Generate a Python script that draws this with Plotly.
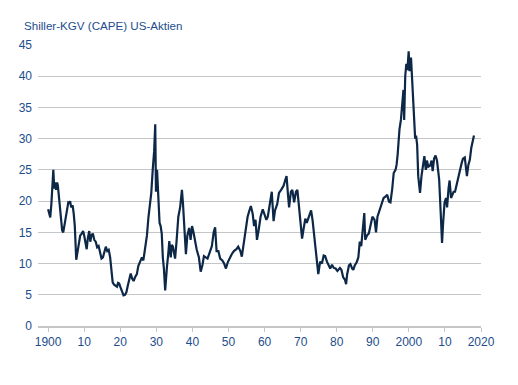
import plotly.graph_objects as go

years = [1900.0,1900.3,1900.6,1900.9,1901.2,1901.45,1901.7,1902.0,1902.2,1902.5,1902.7,1903.0,1903.3,1903.6,1903.9,
1904.2,1904.5,1904.8,1905.2,1905.6,1905.9,1906.1,1906.4,1906.8,1907.1,1907.4,1907.8,1908.1,1908.5,1908.9,1909.3,1909.7,
1910.0,1910.4,1910.7,1911.0,1911.4,1911.7,1912.0,1912.4,1912.8,1913.2,1913.6,1914.0,1914.4,1914.8,1915.2,1915.6,1916.0,
1916.4,1916.8,1917.2,1917.6,1917.9,1918.3,1918.7,1919.1,1919.4,1919.7,1920.0,1920.4,1920.9,1921.3,1921.7,1922.1,1922.5,
1922.9,1923.3,1923.7,1924.1,1924.6,1925.0,1925.5,1926.0,1926.4,1926.9,1927.4,1927.8,1928.2,1928.6,1929.0,1929.4,1929.7,
1929.9,1930.2,1930.5,1930.9,1931.2,1931.5,1931.8,1932.1,1932.45,1932.7,1932.95,1933.3,1933.6,1934.0,1934.3,1934.6,1935.0,
1935.2,1935.6,1936.1,1936.6,1937.1,1937.4,1937.8,1938.2,1938.6,1939.1,1939.5,1939.9,1940.3,1940.6,1941.2,1941.8,1942.3,
1942.8,1943.2,1943.7,1944.2,1944.8,1945.4,1945.9,1946.3,1946.7,1947.2,1947.7,1948.3,1948.8,1949.3,1949.8,1950.4,1950.9,
1951.5,1952.2,1952.7,1953.3,1953.7,1954.3,1954.8,1955.3,1955.8,1956.2,1956.7,1957.1,1957.5,1957.9,1958.4,1958.9,1959.5,
1959.9,1960.5,1960.9,1961.5,1962.0,1962.5,1962.9,1963.5,1964.0,1964.6,1965.3,1965.8,1966.1,1966.5,1966.8,1967.3,1967.7,
1968.2,1968.7,1969.1,1969.5,1970.0,1970.4,1970.8,1971.3,1971.7,1972.2,1972.9,1973.3,1973.7,1974.0,1974.4,1974.9,1975.4,
1975.9,1976.4,1976.8,1977.3,1977.8,1978.2,1978.7,1979.2,1979.7,1980.2,1980.9,1981.3,1981.8,1982.3,1982.6,1982.9,1983.4,
1983.8,1984.3,1984.6,1985.0,1985.6,1986.0,1986.4,1986.8,1987.3,1987.65,1987.9,1988.4,1988.9,1989.4,1989.9,1990.5,1990.9,
1991.3,1991.9,1992.5,1993.0,1993.5,1994.0,1994.5,1994.9,1995.4,1995.8,1996.3,1996.6,1996.9,1997.4,1997.8,1998.2,1998.5,
1998.7,1999.0,1999.3,1999.6,1999.95,2000.2,2000.6,2000.9,2001.2,2001.5,2001.75,2002.0,2002.3,2002.6,2002.8,2003.1,2003.5,
2003.9,2004.3,2004.7,2005.0,2005.4,2005.9,2006.3,2006.6,2007.0,2007.4,2007.8,2008.0,2008.4,2008.8,2009.2,2009.5,2009.9,
2010.3,2010.6,2011.0,2011.3,2011.7,2012.0,2012.4,2012.8,2013.2,2013.7,2014.1,2014.6,2015.0,2015.5,2015.9,2016.1,2016.5,
2016.9,2017.3,2017.7,2018.05]

cape = [18.7,18.0,17.4,19.5,22.5,25.0,22.0,23.0,21.8,23.0,22.5,20.5,19.5,17.0,15.3,
15.0,16.0,17.5,18.7,19.8,19.7,20.0,19.0,19.3,18.0,16.0,10.6,11.5,13.0,14.5,14.8,15.2,
14.5,13.0,12.3,14.0,15.2,13.5,14.5,14.8,13.8,13.5,12.6,12.8,11.8,10.8,11.0,11.8,12.7,
12.0,12.2,11.0,9.0,7.0,6.6,6.5,6.3,6.9,6.8,6.3,5.8,4.9,5.0,5.4,6.5,7.7,
8.4,7.6,7.2,7.8,8.3,9.6,10.3,11.0,10.5,12.5,14.5,17.3,19.3,21.3,25.0,28.0,32.3,
21.5,25.0,22.0,16.5,16.0,14.8,11.0,9.2,5.7,8.5,9.5,11.5,13.6,11.0,13.0,12.7,11.5,
10.8,13.5,17.5,19.0,21.8,19.5,14.5,11.5,14.5,15.7,13.8,16.0,15.0,13.8,12.2,11.0,8.7,
9.8,11.2,11.0,10.8,11.8,12.8,15.0,15.8,12.0,12.0,10.8,10.5,10.0,9.2,10.2,11.0,11.5,
12.0,12.3,12.7,12.0,11.1,13.5,15.5,17.5,18.5,19.2,18.0,16.0,17.0,13.8,15.5,17.5,18.7,
18.0,17.0,17.5,20.0,21.5,16.8,18.5,19.5,21.3,21.8,22.5,23.5,24.0,21.0,19.0,21.5,21.8,
19.8,21.5,21.8,19.5,16.8,14.0,15.5,17.2,16.5,17.5,18.5,17.0,15.0,13.5,11.5,8.3,10.3,
10.0,11.3,11.2,10.3,9.6,9.2,9.8,9.3,9.2,8.8,9.3,9.0,7.8,7.4,6.7,8.3,9.7,
9.9,9.2,9.0,9.7,10.3,11.0,13.5,12.8,16.0,18.1,13.8,14.5,14.8,16.5,17.5,17.0,15.0,
17.5,18.5,19.5,20.5,20.7,21.0,19.9,19.8,22.0,24.5,25.0,25.8,27.5,31.5,33.0,35.5,37.8,
33.0,40.0,42.0,41.0,44.0,40.8,43.0,39.5,36.0,34.0,30.0,30.5,29.0,24.0,23.0,21.3,24.0,
25.5,27.2,25.0,26.5,25.5,25.7,26.5,24.8,26.8,27.3,26.5,25.0,23.5,18.5,13.3,16.5,19.8,
20.5,19.0,22.0,23.3,20.5,21.0,21.5,21.5,22.5,24.2,25.0,26.0,26.8,27.0,25.0,24.0,25.8,
26.6,28.5,29.5,30.5]

tick_vals = [1900, 1910, 1920, 1930, 1940, 1950, 1960, 1970, 1980, 1990, 2000, 2010, 2020]
tick_text = ["1900", "10", "20", "30", "40", "50", "60", "70", "80", "90", "2000", "10", "2020"]
y_ticks = [0, 5, 10, 15, 20, 25, 30, 35, 40, 45]
title_text = "Shiller-KGV (CAPE) US-Aktien"

blue = "#1d4d8c"
fig = go.Figure()
fig.add_trace(go.Scatter(x=years, y=cape, mode="lines",
                         line=dict(color="#0d2747", width=2.2), hoverinfo="skip"))

fig.update_layout(
    width=510, height=377,
    margin=dict(l=30, r=37, t=37, b=59),
    paper_bgcolor="white", plot_bgcolor="white",
    showlegend=False,
    font=dict(family="Liberation Sans, Arial, sans-serif", size=12, color=blue),
    annotations=[dict(text=title_text, xref="paper", yref="paper", x=-0.036, y=1.0,
                      xanchor="left", yanchor="bottom", yshift=11, showarrow=False,
                      font=dict(size=11.6, color=blue))],
    xaxis=dict(range=[1897.2, 2020], tickvals=tick_vals, ticktext=tick_text,
               showgrid=False, zeroline=False, showline=True, linecolor="#c4c6c8",
               linewidth=1.5, ticks="outside", ticklen=4, tickcolor="#c4c6c8",
               tickfont=dict(size=12, color=blue), fixedrange=True),
    yaxis=dict(range=[0, 45], tickvals=y_ticks, showgrid=True, gridcolor="#c4c6c8",
               gridwidth=1.2, zeroline=False, showline=False, ticks="",
               ticklabelstandoff=5, tickfont=dict(size=12, color=blue), fixedrange=True),
)
fig.write_html("out.html")
